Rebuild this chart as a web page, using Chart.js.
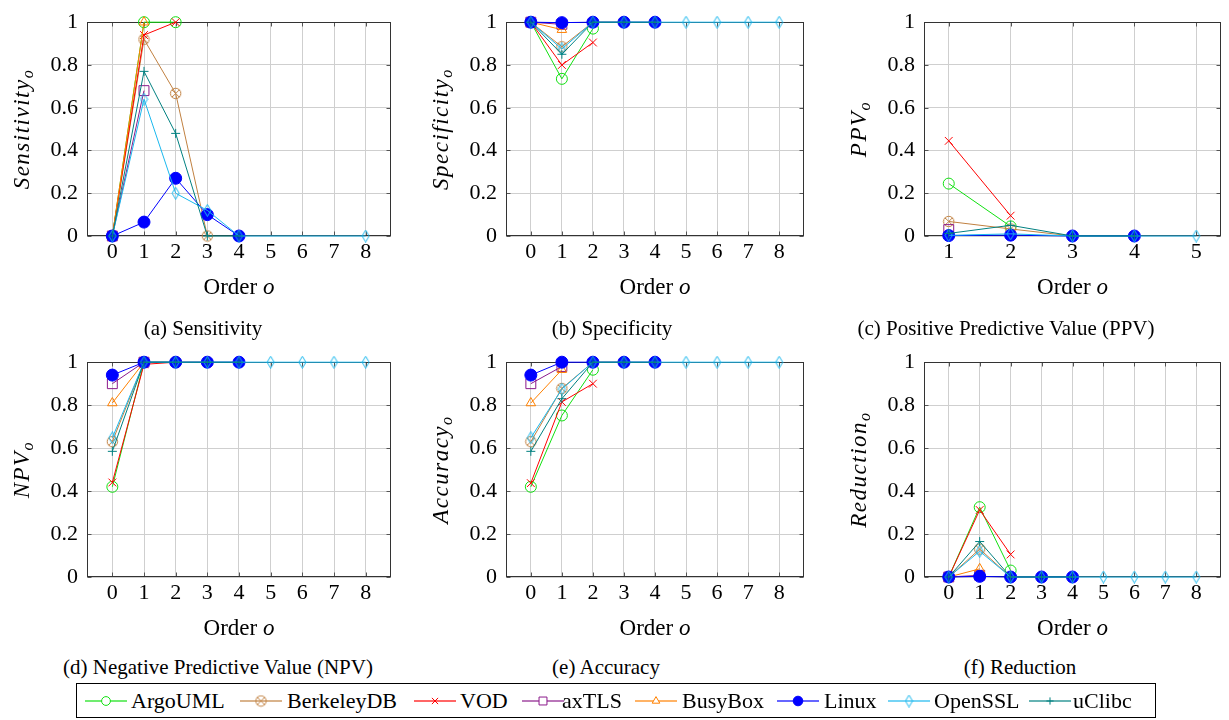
<!DOCTYPE html>
<html>
<head>
<meta charset="utf-8">
<script src="https://cdn.jsdelivr.net/npm/chart.js@4"></script>
<style>
  body { margin: 0; background: #fff; width: 1229px; height: 720px; position: relative; overflow: hidden; font-family: "Liberation Serif", "DejaVu Serif", "Noto Serif", "Nimbus Roman", FreeSerif, Tinos, Times, "Times New Roman", serif; }
  .panel { position: absolute; }
  .cap { position: absolute; font-size: 21px; transform: translate(-50%, -50%); white-space: nowrap; color: #000; }
  #legend { position: absolute; left: 76px; top: 683px; width: 1080px; height: 35px; border: 1px solid #000; box-sizing: border-box; }
  .lg-mark { position: absolute; top: 7px; }
  .lg-text { position: absolute; top: 3px; font-size: 22px; line-height: 27px; white-space: nowrap; }
</style>
</head>
<body>

<div class="panel" id="pa"><canvas id="ca"></canvas></div>
<div class="panel" id="pb"><canvas id="cb"></canvas></div>
<div class="panel" id="pc"><canvas id="cc"></canvas></div>
<div class="panel" id="pd"><canvas id="cd"></canvas></div>
<div class="panel" id="pe"><canvas id="ce"></canvas></div>
<div class="panel" id="pf"><canvas id="cf"></canvas></div>

<div class="cap" style="left:203px;top:328px">(a) Sensitivity</div>
<div class="cap" style="left:612px;top:328px">(b) Specificity</div>
<div class="cap" style="left:1006px;top:328px">(c) Positive Predictive Value (PPV)</div>
<div class="cap" style="left:218px;top:667px">(d) Negative Predictive Value (NPV)</div>
<div class="cap" style="left:606px;top:667px">(e) Accuracy</div>
<div class="cap" style="left:1020px;top:667px">(f) Reduction</div>

<div id="legend"></div>

<script>
// series
const seriesNames = ['ArgoUML', 'BerkeleyDB', 'VOD', 'axTLS', 'BusyBox', 'Linux', 'OpenSSL', 'uClibc'];
const seriesColors = ['#10e010', '#c08040', '#ff0000', '#8b1a8b', '#ff8000', '#0000ff', '#1ab8ee', '#008080'];

// tick labels
const orderTicks = [0, 1, 2, 3, 4, 5, 6, 7, 8];
const ppvTicks = [1, 2, 3, 4, 5];
const yTicks = [0, 0.2, 0.4, 0.6, 0.8, 1];

// values per order (first entry is order 0, for PPV order 1), null = no point
const sensitivity = [
  [0, 1, 1],                                  // ArgoUML
  [0, 0.92, 0.667, 0],                        // BerkeleyDB
  [0, 0.94, 1],                               // VOD
  [0, 0.68],                                  // axTLS
  [0, 1],                                     // BusyBox
  [0, 0.065, 0.27, 0.1, 0],                   // Linux
  [0, 0.64, 0.2, 0.12, 0, null, null, null, 0], // OpenSSL
  [0, 0.77, 0.48, 0, 0]                       // uClibc
];
const specificity = [
  [1, 0.735, 0.97],
  [1, 0.885, 1, 1],
  [1, 0.8, 0.905],
  [1, 0.99],
  [1, 0.965],
  [1, 0.998, 1, 1, 1],
  [1, 0.875, 1, 1, 1, 1, 1, 1, 1],
  [1, 0.85, 1, 1, 1]
];
const ppv = [
  [0.245, 0.045],
  [0.068, 0.033, 0],
  [0.445, 0.095],
  [0.03],
  [0.005],
  [0.002, 0.004, 0, 0],
  [0.003, 0.01, 0, 0, 0],
  [0.012, 0.05, 0, 0]
];
const npv = [
  [0.42, 1, 1],
  [0.63, 1, 1, 1],
  [0.44, 0.99, 1],
  [0.9, 1],
  [0.81, 1],
  [0.94, 1, 1, 1, 1],
  [0.648, 1, 1, 1, 1, 1, 1, 1, 1],
  [0.585, 1, 1, 1, 1]
];
const accuracy = [
  [0.42, 0.752, 0.965],
  [0.63, 0.878, 1, 1],
  [0.437, 0.815, 0.9],
  [0.9, 0.98],
  [0.81, 0.965],
  [0.94, 1, 1, 1, 1],
  [0.648, 0.875, 1, 1, 1, 1, 1, 1, 1],
  [0.585, 0.83, 1, 1, 1]
];
const reduction = [
  [0, 0.325, 0.03],
  [0, 0.13, 0, 0],
  [0, 0.312, 0.105],
  [0, 0.008],
  [0, 0.038],
  [0, 0.003, 0, 0, 0],
  [0, 0.12, 0, 0, 0, 0, 0, 0, 0],
  [0, 0.165, 0, 0, 0]
];

const serif = '"Liberation Serif", "DejaVu Serif", "Noto Serif", "Nimbus Roman", FreeSerif, Tinos, Times, "Times New Roman", serif';

// custom marks: circled x and tall diamond
function markCanvas(kind, color) {
  const c = document.createElement('canvas');
  if (kind === 'otimes') { c.width = 13; c.height = 13; } else { c.width = 9; c.height = 13; }
  const ctx = c.getContext('2d');
  ctx.strokeStyle = color;
  ctx.lineWidth = 1;
  if (kind === 'otimes') {
    ctx.beginPath(); ctx.arc(6.5, 6.5, 5.2, 0, Math.PI * 2); ctx.stroke();
    ctx.beginPath();
    ctx.moveTo(2.8, 2.8); ctx.lineTo(10.2, 10.2);
    ctx.moveTo(10.2, 2.8); ctx.lineTo(2.8, 10.2);
    ctx.stroke();
  } else {
    ctx.beginPath();
    ctx.moveTo(4.5, 0.5); ctx.lineTo(8, 6.5); ctx.lineTo(4.5, 12.5); ctx.lineTo(1, 6.5); ctx.closePath();
    ctx.stroke();
  }
  return c;
}

const pointStyles = ['circle', markCanvas('otimes', seriesColors[1]), 'crossRot', 'rect', 'triangle', 'circle', markCanvas('diamond', seriesColors[6]), 'cross'];
const pointRadii = [5.5, 6, 5.5, 7, 5.5, 6, 6, 4.5];
const pointFills = ['rgba(0,0,0,0)', 'rgba(0,0,0,0)', 'rgba(0,0,0,0)', 'rgba(0,0,0,0)', 'rgba(0,0,0,0)', '#0000ff', 'rgba(0,0,0,0)', 'rgba(0,0,0,0)'];

// frame with inner ticks, like the original axis box
const framePlugin = {
  id: 'frame',
  beforeDatasetsDraw(chart) {
    const { ctx, chartArea: a, scales: { x, y } } = chart;
    const L = Math.round(a.left) + 0.5, R = Math.round(a.right) - 0.5;
    const T = Math.round(a.top) + 0.5, B = Math.round(a.bottom) - 0.5;
    ctx.save();
    ctx.strokeStyle = '#555';
    ctx.lineWidth = 1;
    ctx.beginPath();
    x.ticks.forEach(t => {
      const px = Math.round(x.getPixelForValue(t.value)) + 0.5;
      ctx.moveTo(px, B); ctx.lineTo(px, B - 4);
      ctx.moveTo(px, T); ctx.lineTo(px, T + 4);
    });
    y.ticks.forEach(t => {
      const py = Math.round(y.getPixelForValue(t.value)) + 0.5;
      ctx.moveTo(L, py); ctx.lineTo(L + 4, py);
      ctx.moveTo(R, py); ctx.lineTo(R - 4, py);
    });
    ctx.stroke();
    ctx.strokeStyle = '#333';
    ctx.strokeRect(L, T, R - L, B - T);
    ctx.restore();
  },
  afterDraw(chart, args, opts) {
    const { ctx, chartArea: a } = chart;
    ctx.save();
    ctx.fillStyle = '#000';
    ctx.textBaseline = 'alphabetic';
    // x title: "Order o"
    ctx.font = '23px ' + serif;
    const w1 = ctx.measureText('Order ').width;
    ctx.font = 'italic 23px ' + serif;
    const w2 = ctx.measureText('o').width;
    const x0 = (a.left + a.right) / 2 - (w1 + w2) / 2;
    const yb = a.bottom + 58;
    ctx.font = '23px ' + serif;
    ctx.fillText('Order ', x0, yb);
    ctx.font = 'italic 23px ' + serif;
    ctx.fillText('o', x0 + w1, yb);
    // y title, italic with subscript o
    ctx.translate(a.left - 65, (a.top + a.bottom) / 2);
    ctx.rotate(-Math.PI / 2);
    ctx.font = 'italic 23px ' + serif;
    ctx.letterSpacing = '1.5px';
    const mw = ctx.measureText(opts.main).width;
    ctx.font = 'italic 16px ' + serif;
    const sw = ctx.measureText('o').width;
    const sx = -(mw + sw) / 2;
    ctx.font = 'italic 23px ' + serif;
    ctx.fillText(opts.main, sx, 7);
    ctx.font = 'italic 16px ' + serif;
    ctx.fillText('o', sx + mw, 11);
    ctx.restore();
  }
};

function makeDatasets(values, first) {
  return seriesNames.map((name, i) => ({
    label: name,
    data: values[i].map((v, k) => ({ x: first + k, y: v })).filter(p => p.y !== null),
    borderColor: seriesColors[i],
    backgroundColor: pointFills[i],
    pointBackgroundColor: pointFills[i],
    pointBorderColor: seriesColors[i],
    borderWidth: 1,
    pointBorderWidth: 1,
    pointStyle: pointStyles[i],
    pointRadius: pointRadii[i],
    tension: 0,
    fill: false,
    clip: false,
    order: seriesNames.length - 1 - i
  }));
}

// panel placement (page pixels)
const cols = [
  { left: 0, width: 400, plotL: 87, plotR: 391 },
  { left: 400, width: 412, plotL: 506, plotR: 809 },
  { left: 816, width: 413, plotL: 924, plotR: 1227 }
];
const rows = [
  { top: 0, height: 300, plotT: 15, plotB: 236 },
  { top: 340, height: 300, plotT: 355, plotB: 577 }
];

function makePanel(id, col, row, values, first, xTicks, xMin, xMax, yName) {
  const div = document.getElementById('p' + id);
  div.style.left = col.left + 'px';
  div.style.top = row.top + 'px';
  const canvas = document.getElementById('c' + id);
  canvas.width = col.width;
  canvas.height = row.height;
  const tickFont = { family: serif, size: 22 };
  return new Chart(canvas, {
    type: 'line',
    data: { datasets: makeDatasets(values, first) },
    options: {
      responsive: false,
      animation: false,
      devicePixelRatio: 1,
      layout: { padding: { left: 0, top: row.plotT - row.top, right: col.left + col.width - col.plotR, bottom: 0 } },
      plugins: { legend: { display: false }, tooltip: { enabled: false }, frame: { main: yName } },
      scales: {
        x: {
          type: 'linear', min: xMin, max: xMax,
          afterBuildTicks: s => { s.ticks = xTicks.map(v => ({ value: v })); },
          afterFit: s => { s.height = row.height - (row.plotB - row.top); },
          grid: { color: '#cfcfcf', lineWidth: 1, drawTicks: false },
          border: { display: false },
          ticks: { color: '#000', font: tickFont, padding: 3, maxRotation: 0, autoSkip: false, callback: v => String(v) }
        },
        y: {
          type: 'linear', min: 0, max: 1,
          afterBuildTicks: s => { s.ticks = yTicks.map(v => ({ value: v })); },
          afterFit: s => { s.width = col.plotL - col.left; },
          grid: { color: '#cfcfcf', lineWidth: 1, drawTicks: false },
          border: { display: false },
          ticks: { color: '#000', font: tickFont, padding: 9, callback: v => (v === 0 ? '0' : v === 1 ? '1' : v.toFixed(1)) }
        }
      }
    },
    plugins: [framePlugin]
  });
}

makePanel('a', cols[0], rows[0], sensitivity, 0, orderTicks, -0.8, 8.8, 'Sensitivity');
makePanel('b', cols[1], rows[0], specificity, 0, orderTicks, -0.8, 8.8, 'Specificity');
makePanel('c', cols[2], rows[0], ppv, 1, ppvTicks, 0.6, 5.4, 'PPV');
makePanel('d', cols[0], rows[1], npv, 0, orderTicks, -0.8, 8.8, 'NPV');
makePanel('e', cols[1], rows[1], accuracy, 0, orderTicks, -0.8, 8.8, 'Accuracy');
makePanel('f', cols[2], rows[1], reduction, 0, orderTicks, -0.8, 8.8, 'Reduction');

// legend: line sample with the series mark, then the name
const legendMarkX = [105, 260, 434, 542, 655, 797, 908, 1049];
const legendTextX = [130, 286, 459, 561, 681, 823, 933, 1072];
const legend = document.getElementById('legend');
seriesNames.forEach((name, i) => {
  const c = document.createElement('canvas');
  c.width = 46; c.height = 20;
  c.className = 'lg-mark';
  c.style.left = (legendMarkX[i] - 76 - 23) + 'px';
  const ctx = c.getContext('2d');
  ctx.save();
  ctx.globalAlpha = 0.6;
  ctx.strokeStyle = seriesColors[i];
  ctx.lineWidth = 2;
  ctx.beginPath(); ctx.moveTo(2, 10); ctx.lineTo(44, 10); ctx.stroke();
  ctx.restore();
  ctx.strokeStyle = seriesColors[i];
  ctx.fillStyle = pointFills[i] === 'rgba(0,0,0,0)' ? '#ffffff' : pointFills[i];
  ctx.lineWidth = 1;
  Chart.helpers.drawPoint(ctx, { pointStyle: pointStyles[i], radius: pointRadii[i] * 0.8, borderWidth: 1, rotation: 0 }, 23, 10);
  legend.appendChild(c);
  const t = document.createElement('span');
  t.className = 'lg-text';
  t.style.left = (legendTextX[i] - 76) + 'px';
  t.textContent = name;
  legend.appendChild(t);
});
</script>
</body>
</html>
